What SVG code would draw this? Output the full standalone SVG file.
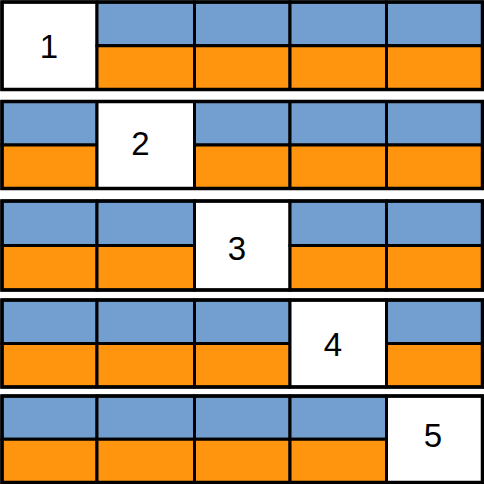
<svg xmlns="http://www.w3.org/2000/svg" width="484" height="484" viewBox="0 0 484 484">
<style>
.b{fill:#729fcf;stroke:#000;stroke-width:3}
.o{fill:#ff950e;stroke:#000;stroke-width:3}
.w{fill:#fff;stroke:#000;stroke-width:3}
.f{fill:none;stroke:#000;stroke-width:3.5}
.t{font-family:"Liberation Sans",Arial,sans-serif;font-size:33px;fill:#000;text-anchor:middle}
</style>
<g id="row1">
<rect class="w" x="2" y="2" width="95" height="87.5"/>
<rect class="b" x="97" y="2" width="97.5" height="43.75"/><rect class="o" x="97" y="45.75" width="97.5" height="43.75"/>
<rect class="b" x="194.5" y="2" width="95.5" height="43.75"/><rect class="o" x="194.5" y="45.75" width="95.5" height="43.75"/>
<rect class="b" x="290" y="2" width="96.5" height="43.75"/><rect class="o" x="290" y="45.75" width="96.5" height="43.75"/>
<rect class="b" x="386.5" y="2" width="96" height="43.75"/><rect class="o" x="386.5" y="45.75" width="96" height="43.75"/>
<rect class="f" x="2" y="2" width="480.5" height="87.5"/>
<text class="t" x="49" y="57.7">1</text>
</g>
<g id="row2">
<rect class="b" x="2" y="101.5" width="95" height="43.5"/><rect class="o" x="2" y="145" width="95" height="43.5"/>
<rect class="w" x="97" y="101.5" width="97.5" height="87"/>
<rect class="b" x="194.5" y="101.5" width="95.5" height="43.5"/><rect class="o" x="194.5" y="145" width="95.5" height="43.5"/>
<rect class="b" x="290" y="101.5" width="96.5" height="43.5"/><rect class="o" x="290" y="145" width="96.5" height="43.5"/>
<rect class="b" x="386.5" y="101.5" width="96" height="43.5"/><rect class="o" x="386.5" y="145" width="96" height="43.5"/>
<rect class="f" x="2" y="101.5" width="480.5" height="87"/>
<text class="t" x="140.5" y="155">2</text>
</g>
<g id="row3">
<rect class="b" x="2" y="201" width="95" height="44.5"/><rect class="o" x="2" y="245.5" width="95" height="44.5"/>
<rect class="b" x="97" y="201" width="97.5" height="44.5"/><rect class="o" x="97" y="245.5" width="97.5" height="44.5"/>
<rect class="w" x="194.5" y="201" width="95.5" height="89"/>
<rect class="b" x="290" y="201" width="96.5" height="44.5"/><rect class="o" x="290" y="245.5" width="96.5" height="44.5"/>
<rect class="b" x="386.5" y="201" width="96" height="44.5"/><rect class="o" x="386.5" y="245.5" width="96" height="44.5"/>
<rect class="f" x="2" y="201" width="480.5" height="89"/>
<text class="t" x="237" y="260">3</text>
</g>
<g id="row4">
<rect class="b" x="2" y="300" width="95" height="43.5"/><rect class="o" x="2" y="343.5" width="95" height="43.5"/>
<rect class="b" x="97" y="300" width="97.5" height="43.5"/><rect class="o" x="97" y="343.5" width="97.5" height="43.5"/>
<rect class="b" x="194.5" y="300" width="95.5" height="43.5"/><rect class="o" x="194.5" y="343.5" width="95.5" height="43.5"/>
<rect class="w" x="290" y="300" width="96.5" height="87"/>
<rect class="b" x="386.5" y="300" width="96" height="43.5"/><rect class="o" x="386.5" y="343.5" width="96" height="43.5"/>
<rect class="f" x="2" y="300" width="480.5" height="87"/>
<text class="t" x="333" y="356">4</text>
</g>
<g id="row5">
<rect class="b" x="2" y="396" width="95" height="43.25"/><rect class="o" x="2" y="439.25" width="95" height="43.25"/>
<rect class="b" x="97" y="396" width="97.5" height="43.25"/><rect class="o" x="97" y="439.25" width="97.5" height="43.25"/>
<rect class="b" x="194.5" y="396" width="95.5" height="43.25"/><rect class="o" x="194.5" y="439.25" width="95.5" height="43.25"/>
<rect class="b" x="290" y="396" width="96.5" height="43.25"/><rect class="o" x="290" y="439.25" width="96.5" height="43.25"/>
<rect class="w" x="386.5" y="396" width="96" height="86.5"/>
<rect class="f" x="2" y="396" width="480.5" height="86.5"/>
<text class="t" x="433" y="446.7">5</text>
</g>
<g id="connectors"/>
</svg>
